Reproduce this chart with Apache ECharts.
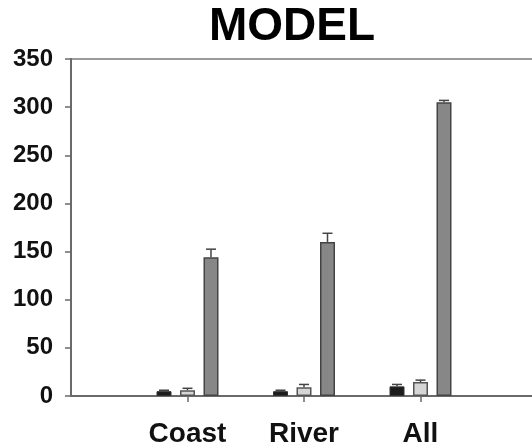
<!DOCTYPE html>
<html>
<head>
<meta charset="utf-8">
<script src="https://cdn.jsdelivr.net/npm/echarts@6/dist/echarts.min.js"></script>
<style>
html, body { margin: 0; padding: 0; background: #fff; }
#container { width: 532px; height: 448px; }
</style>
</head>
<body>
<div id="container"></div>
<script>
var categories = ['', 'Coast', 'River', 'All', ''];
var blackValues = [null, 5, 5, 10, null];
var blackErrors = [null, 1, 1, 2, null];
var lightValues = [null, 6, 9, 14.5, null];
var lightErrors = [null, 2, 3, 2, null];
var darkValues = [null, 144, 160, 305, null];
var darkErrors = [null, 8.5, 9, 2, null];

var barWidth = 15;
var barStep = 23.5; // distance between bar centres in a group

var dom = document.getElementById('container');
var myChart = echarts.init(dom);

function errorData(values, errors) {
    var out = [];
    for (var i = 0; i < values.length; i++) {
        if (values[i] != null) out.push([i, values[i], errors[i]]);
    }
    return out;
}

function errorSeries(values, errors, offset) {
    return {
        type: 'custom',
        z: 1,
        data: errorData(values, errors),
        renderItem: function (params, api) {
            var base = api.coord([api.value(0), api.value(1)]);
            var top = api.coord([api.value(0), api.value(1) + api.value(2)]);
            var x = base[0] + offset;
            var style = { stroke: '#444', lineWidth: 1.5 };
            return {
                type: 'group',
                children: [
                    { type: 'line', shape: { x1: x, y1: base[1], x2: x, y2: top[1] }, style: style },
                    { type: 'line', shape: { x1: x - 5, y1: top[1], x2: x + 5, y2: top[1] }, style: style }
                ]
            };
        }
    };
}

var axisColor = '#6a6a6a';
var labelFont = 'Liberation Sans, Arial, sans-serif';

var option = {
    animation: false,
    title: {
        text: 'MODEL',
        left: 204,
        top: -1,
        textStyle: { fontFamily: labelFont, fontWeight: 'bold', fontSize: 46, color: '#000' }
    },
    grid: {
        left: 71,
        right: -5,
        top: 59,
        bottom: 52,
        containLabel: false,
        outerBoundsMode: 'none',
        show: true,
        borderColor: '#7a7a7a',
        borderWidth: 1.5
    },
    xAxis: {
        type: 'category',
        data: categories,
        boundaryGap: false,
        axisLine: { lineStyle: { color: axisColor, width: 2 } },
        axisTick: {
            interval: function (i) { return i > 0 && i < categories.length - 1; },
            length: 6,
            lineStyle: { color: axisColor, width: 1.5 }
        },
        axisLabel: {
            interval: 0,
            margin: 24,
            fontFamily: labelFont,
            fontWeight: 'bold',
            fontSize: 28,
            color: '#111'
        },
        splitLine: { show: false }
    },
    yAxis: {
        type: 'value',
        min: 0,
        max: 350,
        interval: 50,
        axisLine: { show: true, lineStyle: { color: axisColor, width: 2 } },
        axisTick: { show: true, length: 6, lineStyle: { color: axisColor, width: 1.5 } },
        axisLabel: {
            margin: 18,
            fontFamily: labelFont,
            fontWeight: 'bold',
            fontSize: 24,
            color: '#111'
        },
        splitLine: { show: false }
    },
    series: [
        {
            type: 'bar',
            data: blackValues,
            barWidth: barWidth,
            barGap: ((barStep - barWidth) / barWidth * 100) + '%',
            itemStyle: { color: '#1c1c1c', borderColor: '#333', borderWidth: 1 }
        },
        {
            type: 'bar',
            data: lightValues,
            barWidth: barWidth,
            itemStyle: { color: '#d6d6d6', borderColor: '#555', borderWidth: 1.5 }
        },
        {
            type: 'bar',
            data: darkValues,
            barWidth: barWidth,
            itemStyle: { color: '#878787', borderColor: '#444', borderWidth: 1.5 }
        },
        errorSeries(blackValues, blackErrors, -barStep),
        errorSeries(lightValues, lightErrors, 0),
        errorSeries(darkValues, darkErrors, barStep)
    ]
};

if (option && typeof option === 'object') {
    myChart.setOption(option, true);
}
</script>
</body>
</html>
